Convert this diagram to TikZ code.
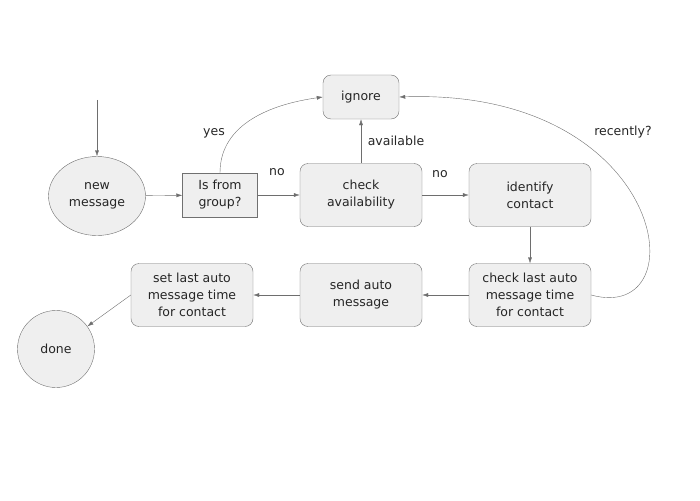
\documentclass[tikz,border=0pt]{standalone}
\usepackage{fontspec}
\setmainfont{DejaVu Sans}
\usetikzlibrary{positioning}
\usetikzlibrary{arrows.meta}
\usetikzlibrary{shapes.geometric}

\definecolor{boxfill}{HTML}{EFEFEF}
\definecolor{boxline}{HTML}{707070}
\definecolor{arrowline}{HTML}{6E6E6E}

\tikzset{
  every node/.style={font=\fontsize{12.5}{17}\selectfont, text=black!85},
  stepbox/.style={draw=boxline, fill=boxfill, rounded corners=8pt, align=center,
    minimum width=122pt, minimum height=63pt},
  smallbox/.style={draw=boxline, fill=boxfill, rounded corners=8pt, align=center,
    minimum width=76pt, minimum height=44pt},
  testbox/.style={draw=boxline, fill=boxfill, align=center,
    minimum width=75pt, minimum height=44pt},
  endstate/.style={draw=boxline, fill=boxfill, ellipse, align=center,
    minimum width=97pt, minimum height=79pt, inner sep=0pt},
  flow/.style={-{Latex[length=6pt,width=4pt]}, draw=arrowline},
}

\begin{document}
\begin{tikzpicture}[x=1pt, y=-1pt]
  \useasboundingbox (0,0) rectangle (700,500);

  % Noeuds
  \node[endstate] (new) at (97,196) {new\\message};
  \node[testbox] (group) at (220,195) {Is from\\group?};
  \node[stepbox] (avail) at (361,195) {check\\availability};
  \node[smallbox] (ignore) at (361,97) {ignore};
  \node[stepbox] (ident) at (530,195) {identify\\contact};
  \node[stepbox] (last) at (530,295) {check last auto\\message time\\for contact};
  \node[stepbox] (send) at (361,295) {send auto\\message};
  \node[stepbox] (setlast) at (192,295) {set last auto\\message time\\for contact};
  \node[endstate, minimum width=77pt, minimum height=77pt] (done) at (56,349) {done};
  \coordinate (start) at (97,100);

  % Flèches
  \draw[flow] (start) -- (new);
  \draw[flow] (new) -- (group);
  \draw[flow] (group) -- (avail);
  \draw[flow] (group.north) to[out=90, in=188] (ignore.west);
  \draw[flow] (avail) -- (ignore);
  \draw[flow] (avail) -- (ident);
  \draw[flow] (ident) -- (last);
  \draw[flow] (last.east) .. controls (700,325) and (668,88) .. (ignore.east);
  \draw[flow] (last) -- (send);
  \draw[flow] (send) -- (setlast);
  \draw[flow] (setlast.west) -- (done);

  % Etiquettes
  \node (yes) at (214,133) {yes};
  \node (no1) at (277,172) {no};
  \node (av) at (396,141) {available};
  \node (no2) at (440,174) {no};
  \node (rec) at (623,132) {recently?};
\end{tikzpicture}
\end{document}
